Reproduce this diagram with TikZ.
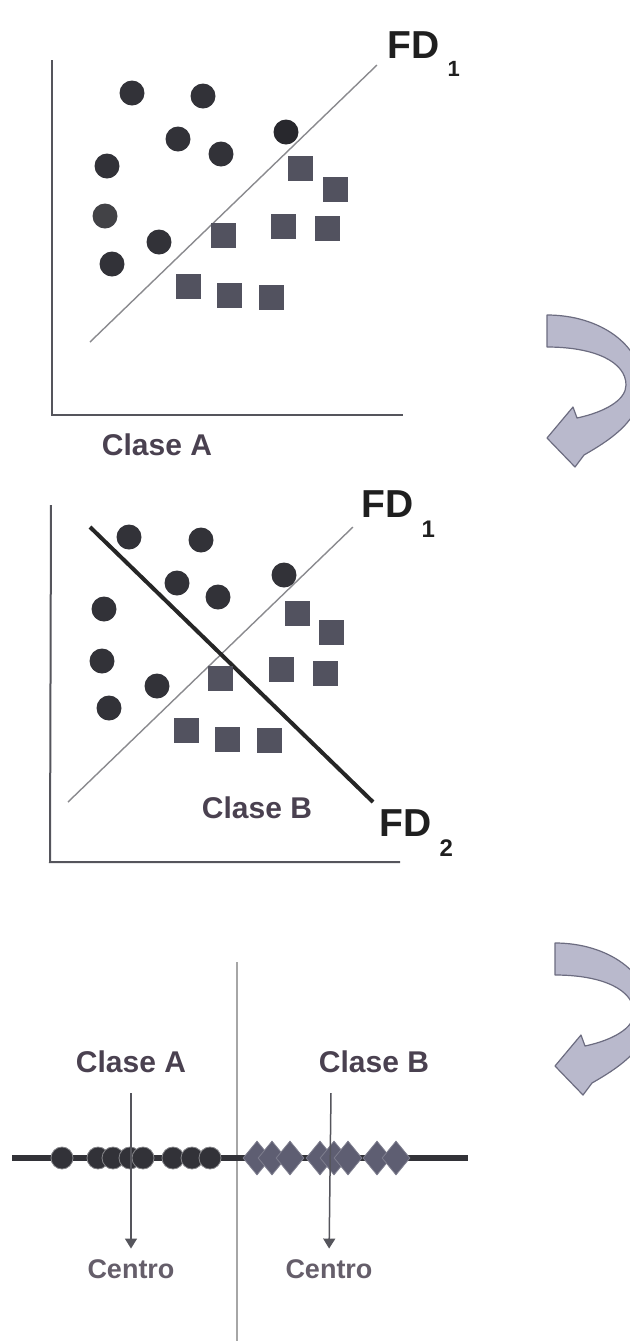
\documentclass[tikz,border=0pt]{standalone}
\usepackage{fontspec}
\setmainfont{Liberation Sans}
\usetikzlibrary{arrows.meta,shapes.geometric}

\definecolor{ink}{HTML}{323238}
\definecolor{boxgray}{HTML}{52525F}
\definecolor{gemgray}{HTML}{5E5E72}
\definecolor{txt}{HTML}{4A4150}
\definecolor{axisgray}{HTML}{55555C}
\definecolor{linegray}{HTML}{8A8A8E}
\definecolor{turnfill}{HTML}{B9B9CC}
\definecolor{turnline}{HTML}{6C6C80}

\begin{document}
\begin{tikzpicture}[x=0.5pt, y=-0.5pt, >={Triangle[width=6pt,length=5pt]},
                    semithick]
    \tikzstyle{dot}=[circle, fill=ink, minimum size=12.5pt, inner sep=0pt]
    \tikzstyle{sq}=[rectangle, fill=boxgray, minimum size=12.5pt, inner sep=0pt]
    \tikzstyle{bead}=[circle, fill=ink, draw=ink!60, thin, minimum size=11pt, inner sep=0pt]
    \tikzstyle{gem}=[diamond, fill=gemgray, draw=gemgray!80, thin, minimum width=14pt,
                     minimum height=17pt, inner sep=0pt]
    \tikzstyle{clase}=[text=txt, inner sep=0pt, anchor=base, font=\fontsize{15}{18}\selectfont\bfseries]
    \tikzstyle{centro}=[text=txt!85, inner sep=0pt, anchor=base, font=\fontsize{13.5}{16}\selectfont\bfseries]
    \tikzstyle{fd}=[text=black!88, inner sep=0pt, anchor=base west, font=\fontsize{19.5}{22}\selectfont\bfseries]
    \tikzstyle{axis}=[draw=axisgray, line width=1pt]
    \tikzstyle{turnarrow}=[fill=turnfill, draw=turnline, line width=0.6pt, line join=round]

    \useasboundingbox (0,0) rectangle (630,1341);

    % --- first plot: two classes split by FD1
    \coordinate (o1) at (52,415);
    \draw[axis] (52,60) -- (o1) -- (403,415);
    \coordinate (fd1s) at (90,342);
    \coordinate (fd1e) at (377,65);
    \draw[linegray, line width=0.7pt] (fd1s) -- (fd1e);
    \node[fd] (fd1) at (387,58) {FD\hspace{4pt}\raisebox{-9pt}{\fontsize{11}{12}\selectfont 1}};

    \foreach \x/\y [count=\i] in {132/93, 203/96, 178/139, 221/154, 107/166,
                                  159/242, 112/264}
        \node[dot] (a\i) at (\x,\y) {};
    \node[dot, fill=ink!80!gray] (a8) at (105,216) {};
    \node[dot, fill=ink!80!black] (a9) at (286,132) {};
    \foreach \x/\y [count=\i] in {300/168, 335/189, 223/235, 283/226, 327/228,
                                  188/286, 229/295, 271/297}
        \node[sq] (b\i) at (\x,\y) {};
    \node[clase] (claseA) at (157,455) {Clase A};

    % --- second plot: FD2 added
    \coordinate (o2) at (50,862);
    \draw[axis] (51,505) -- (o2) -- (400,862);
    \coordinate (fd1s2) at (68,802);
    \coordinate (fd1e2) at (353,527);
    \draw[linegray, line width=0.7pt] (fd1s2) -- (fd1e2);
    \coordinate (fd2s) at (90,527);
    \coordinate (fd2e) at (373,802);
    \draw[black!85, line width=2pt] (fd2s) -- (fd2e);
    \node[fd] (fd1b) at (361,517) {FD\hspace{4pt}\raisebox{-10pt}{\fontsize{12}{13}\selectfont 1}};
    \node[fd] (fd2) at (379,836) {FD\hspace{4pt}\raisebox{-10pt}{\fontsize{12}{13}\selectfont 2}};

    \foreach \x/\y [count=\i] in {129/537, 201/540, 177/583, 218/597, 284/575,
                                  104/609, 102/661, 157/686, 109/708}
        \node[dot] (c\i) at (\x,\y) {};
    \foreach \x/\y [count=\i] in {297/613, 331/632, 220/678, 281/669, 325/673,
                                  186/730, 227/739, 269/740}
        \node[sq] (d\i) at (\x,\y) {};
    \node[clase] (claseB) at (257,818) {Clase B};

    % --- projection on one axis
    \coordinate (divtop) at (237,962);
    \coordinate (divbot) at (237,1341);
    \draw[black!35, line width=0.8pt] (divtop) -- (divbot);
    \coordinate (axl) at (12,1158);
    \coordinate (axr) at (468,1158);
    \draw[ink, line width=3pt] (axl) -- (axr);

    \foreach \x [count=\i] in {62, 98, 113, 130, 143, 173, 192, 210}
        \node[bead] (e\i) at (\x,1158) {};
    \foreach \x [count=\i] in {257, 272, 290, 320, 334, 348, 377, 396}
        \node[gem] (f\i) at (\x,1158) {};

    \node[clase] (projA) at (131,1072) {Clase A};
    \node[clase] (projB) at (374,1072) {Clase B};
    \node[centro] (cenA) at (131,1278) {Centro};
    \node[centro] (cenB) at (329,1278) {Centro};
    \coordinate (topA) at (131,1093);
    \coordinate (topB) at (331,1093);
    \draw[->, axisgray, line width=0.75pt, shorten >=5pt] (topA) -- (cenA.north);
    \draw[->, axisgray, line width=0.75pt, shorten >=5pt] (topB) -- (cenB.north);

    % --- turning arrows on the right edge
    \foreach \dx/\dy in {0/0, 8/628}
        \draw[turnarrow, shift={(\dx,\dy)}] (547,315)
            .. controls (600,315) and (642,345) .. (642,385)
            .. controls (642,420) and (610,440) .. (584,455)
            -- (575,467) -- (547,438) -- (573,407) -- (577,418)
            .. controls (605,412) and (626,400) .. (626,385)
            .. controls (626,362) and (595,347) .. (547,347) -- cycle;
\end{tikzpicture}
\end{document}
